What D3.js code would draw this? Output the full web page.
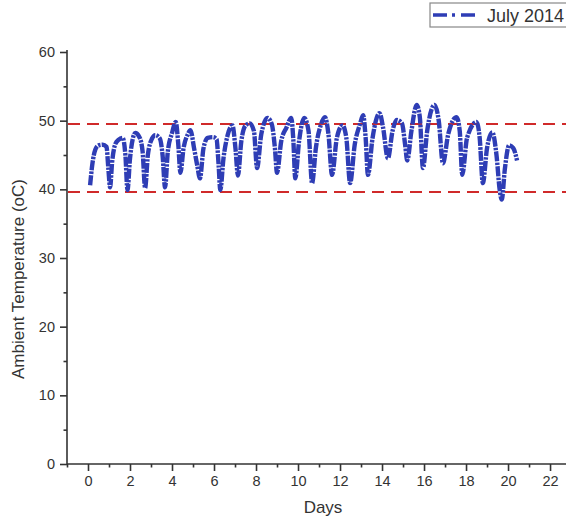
<!DOCTYPE html>
<html>
<head>
<meta charset="utf-8">
<script src="https://cdn.jsdelivr.net/npm/d3@7"></script>
<style>
    body { margin: 0; background: #fff; }
    svg text { font-family: "Liberation Sans", Arial, sans-serif; fill: #333; }
</style>
</head>
<body>
<div id="chart"></div>
<script>
// --- Data ---
const days = [
    0.10, 0.20, 0.35, 0.50, 0.70, 0.88, 0.97, 1.05, 1.15, 1.30, 1.45, 1.65, 1.78, 1.88,
    2.00, 2.15, 2.25, 2.45, 2.60, 2.72, 2.85, 3.05, 3.20, 3.42, 3.55, 3.67, 3.80, 4.00,
    4.18, 4.30, 4.40, 4.55, 4.75, 4.88, 5.05, 5.20, 5.33, 5.50, 5.70, 5.95, 6.12, 6.22,
    6.30, 6.45, 6.65, 6.88, 7.02, 7.14, 7.30, 7.50, 7.70, 7.90, 8.05, 8.25, 8.55, 8.75,
    8.90, 9.00, 9.20, 9.45, 9.68, 9.78, 9.87, 10.05, 10.30, 10.50, 10.67, 10.85, 11.10,
    11.28, 11.45, 11.62, 11.85, 12.12, 12.30, 12.48, 12.70, 12.95, 13.10, 13.22, 13.33,
    13.55, 13.88, 14.05, 14.28, 14.50, 14.70, 14.95, 15.10, 15.20, 15.40, 15.65, 15.80,
    15.95, 16.15, 16.50, 16.70, 16.90, 17.15, 17.55, 17.70, 17.82, 18.05, 18.50, 18.65,
    18.80, 19.00, 19.25, 19.45, 19.60, 19.70, 19.85, 20.05, 20.25, 20.43
];
const temps = [
    40.6, 43.5, 45.8, 46.4, 46.5, 46.2, 43.0, 40.3, 44.0, 46.6, 47.2, 47.5, 45.0, 39.9,
    44.5, 47.6, 48.2, 47.6, 45.5, 40.2, 45.0, 47.4, 47.9, 47.4, 45.0, 40.3, 45.5, 48.2,
    49.8, 46.5, 42.4, 46.0, 48.0, 48.6, 46.0, 43.5, 41.6, 46.0, 47.5, 47.6, 47.3, 43.5,
    39.9, 44.5, 47.9, 49.3, 46.0, 42.0, 47.0, 49.3, 49.6, 48.5, 43.1, 48.0, 50.4, 49.5,
    46.0, 42.4, 47.0, 49.0, 50.4, 47.0, 41.6, 47.0, 50.4, 48.5, 40.9, 46.0, 49.5,
    50.5, 48.0, 42.1, 47.5, 49.3, 47.5, 40.9, 46.5, 49.5, 50.8, 47.5, 42.1,
    47.5, 51.1, 49.0, 44.5, 48.5, 50.1, 49.6, 46.5, 44.2, 48.5, 52.3, 50.5,
    43.1, 48.5, 52.3, 50.0, 43.8, 48.0, 50.5, 48.5, 42.1, 47.5, 49.8, 47.5,
    40.9, 46.0, 48.3, 45.0, 40.0, 38.5, 43.0, 46.4, 46.0, 44.2
];
const limitLines = [49.5, 39.6];
const xTicks = [0, 2, 4, 6, 8, 10, 12, 14, 16, 18, 20, 22];
const xMinorTicks = [-1, 1, 3, 5, 7, 9, 11, 13, 15, 17, 19, 21];
const yTicks = [0, 10, 20, 30, 40, 50, 60];
const yMinorTicks = [5, 15, 25, 35, 45, 55];
const seriesName = 'July 2014';

const width = 566, height = 518;
const margin = { top: 52, right: 0, bottom: 54, left: 67 };
const blue = '#2e3db5';
const red = '#d02a2a';

const svg = d3.select('#chart').append('svg')
    .attr('width', width).attr('height', height);

// 21 px per day, axis starts at day -1
const x = d3.scaleLinear().domain([-1, 22.76]).range([margin.left, width - margin.right]);
const y = d3.scaleLinear().domain([0, 60]).range([height - margin.bottom, margin.top]);

// Axes
svg.append('g').attr('transform', `translate(0,${y(0)})`)
    .call(d3.axisBottom(x).tickValues(xTicks).tickSize(7).tickPadding(5).tickFormat(d3.format('d')))
    .select('.domain').remove();
svg.append('g').attr('transform', `translate(0,${y(0)})`)
    .call(d3.axisBottom(x).tickValues(xMinorTicks).tickSize(3.5).tickFormat(''))
    .select('.domain').remove();
svg.append('line')
    .attr('x1', x(-1)).attr('x2', width).attr('y1', y(0)).attr('y2', y(0))
    .attr('stroke', '#333').attr('stroke-width', 1.6);

svg.append('g').attr('transform', `translate(${x(-1)},0)`)
    .call(d3.axisLeft(y).tickValues(yTicks).tickSize(7).tickPadding(5))
    .select('.domain').remove();
svg.append('g').attr('transform', `translate(${x(-1)},0)`)
    .call(d3.axisLeft(y).tickValues(yMinorTicks).tickSize(3.5).tickFormat(''))
    .select('.domain').remove();
svg.append('line')
    .attr('x1', x(-1)).attr('x2', x(-1)).attr('y1', y(0)).attr('y2', y(60) - 2)
    .attr('stroke', '#333').attr('stroke-width', 1.6);

svg.selectAll('.tick line').attr('stroke', '#333').attr('stroke-width', 1.6);
svg.selectAll('.tick text').style('font-size', '14.5px');

// Limit lines
svg.selectAll('.limit').data(limitLines).enter().append('line')
    .attr('class', 'limit')
    .attr('x1', x(-1) + 1).attr('x2', width)
    .attr('y1', d => y(d)).attr('y2', d => y(d))
    .attr('stroke', red).attr('stroke-width', 2)
    .attr('stroke-dasharray', '12,7');

// Series
const points = days.map((d, i) => ({ day: d, t: temps[i] }));
svg.append('path')
    .datum(points)
    .attr('fill', 'none')
    .attr('stroke', blue)
    .attr('stroke-width', 4.4)
    .attr('stroke-linejoin', 'round')
    .attr('stroke-dasharray', '10,1.2,2.5,1.2')
    .attr('d', d3.line().x(d => x(d.day)).y(d => y(d.t)).curve(d3.curveMonotoneX));

// Axis titles
svg.append('text')
    .attr('x', 323).attr('y', 513)
    .attr('text-anchor', 'middle').style('font-size', '17px')
    .text('Days');
svg.append('text')
    .attr('transform', 'translate(24,279) rotate(-90)')
    .attr('text-anchor', 'middle').style('font-size', '17px')
    .text('Ambient Temperature (oC)');

// Legend
const lg = svg.append('g');
lg.append('rect')
    .attr('x', 430).attr('y', 3).attr('width', 145).attr('height', 24)
    .attr('fill', '#fff').attr('stroke', '#888').attr('stroke-width', 1.2);
lg.append('line')
    .attr('x1', 433).attr('x2', 477).attr('y1', 15).attr('y2', 15)
    .attr('stroke', blue).attr('stroke-width', 3.6)
    .attr('stroke-dasharray', '14,5,3,6');
lg.append('text')
    .attr('x', 487).attr('y', 22).style('font-size', '18px')
    .text(seriesName);
</script>
</body>
</html>
